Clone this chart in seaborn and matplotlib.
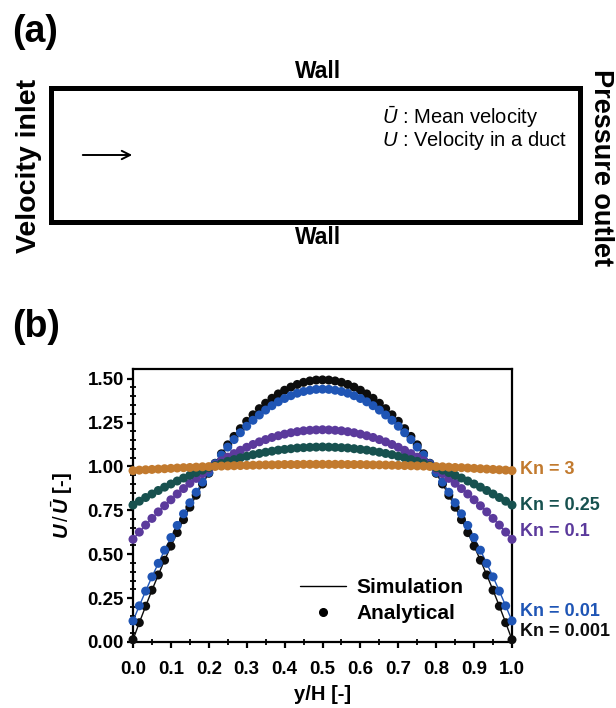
import numpy as np
import pandas as pd
import matplotlib
matplotlib.use("Agg")
import matplotlib.pyplot as plt
from matplotlib.lines import Line2D
from matplotlib.patches import Rectangle, FancyArrowPatch
import seaborn as sns

# ---- data: normalised velocity profiles U/U_mean across the duct height ----
y_over_h = np.linspace(0.0, 1.0, 61)

kn_labels = ["Kn = 0.001", "Kn = 0.01", "Kn = 0.1", "Kn = 0.25", "Kn = 3"]

u_kn_0001 = [0.013, 0.110, 0.204, 0.295, 0.382, 0.466, 0.546, 0.623, 0.697, 0.768,
             0.836, 0.900, 0.961, 1.018, 1.072, 1.123, 1.171, 1.215, 1.257, 1.294,
             1.329, 1.360, 1.388, 1.413, 1.434, 1.452, 1.467, 1.479, 1.487, 1.492,
             1.493,
             1.492, 1.487, 1.479, 1.467, 1.452, 1.434, 1.413, 1.388, 1.360, 1.329,
             1.294, 1.257, 1.215, 1.171, 1.123, 1.072, 1.018, 0.961, 0.900, 0.836,
             0.768, 0.697, 0.623, 0.546, 0.466, 0.382, 0.295, 0.204, 0.110, 0.013]

u_kn_001 = [0.120, 0.206, 0.290, 0.371, 0.448, 0.523, 0.595, 0.664, 0.730, 0.793,
            0.853, 0.911, 0.965, 1.016, 1.065, 1.110, 1.153, 1.192, 1.229, 1.263,
            1.293, 1.321, 1.346, 1.368, 1.387, 1.403, 1.417, 1.427, 1.434, 1.439,
            1.440,
            1.439, 1.434, 1.427, 1.417, 1.403, 1.387, 1.368, 1.346, 1.321, 1.293,
            1.263, 1.229, 1.192, 1.153, 1.110, 1.065, 1.016, 0.965, 0.911, 0.853,
            0.793, 0.730, 0.664, 0.595, 0.523, 0.448, 0.371, 0.290, 0.206, 0.120]

u_kn_01 = [0.585, 0.626, 0.666, 0.704, 0.741, 0.776, 0.810, 0.843, 0.874, 0.904,
           0.932, 0.959, 0.985, 1.009, 1.032, 1.053, 1.073, 1.092, 1.109, 1.125,
           1.140, 1.153, 1.165, 1.175, 1.184, 1.192, 1.198, 1.203, 1.206, 1.208,
           1.209,
           1.208, 1.206, 1.203, 1.198, 1.192, 1.184, 1.175, 1.165, 1.153, 1.140,
           1.125, 1.109, 1.092, 1.073, 1.053, 1.032, 1.009, 0.985, 0.959, 0.932,
           0.904, 0.874, 0.843, 0.810, 0.776, 0.741, 0.704, 0.666, 0.626, 0.585]

u_kn_025 = [0.780, 0.802, 0.823, 0.843, 0.863, 0.882, 0.900, 0.917, 0.934, 0.950,
            0.965, 0.979, 0.993, 1.005, 1.017, 1.029, 1.039, 1.049, 1.058, 1.067,
            1.074, 1.081, 1.087, 1.093, 1.097, 1.101, 1.105, 1.107, 1.109, 1.110,
            1.111,
            1.110, 1.109, 1.107, 1.105, 1.101, 1.097, 1.093, 1.087, 1.081, 1.074,
            1.067, 1.058, 1.049, 1.039, 1.029, 1.017, 1.005, 0.993, 0.979, 0.965,
            0.950, 0.934, 0.917, 0.900, 0.882, 0.863, 0.843, 0.823, 0.802, 0.780]

u_kn_3 = [0.976, 0.979, 0.981, 0.983, 0.985, 0.987, 0.989, 0.991, 0.993, 0.994,
          0.996, 0.998, 0.999, 1.000, 1.002, 1.003, 1.004, 1.005, 1.006, 1.007,
          1.008, 1.009, 1.009, 1.010, 1.011, 1.011, 1.011, 1.012, 1.012, 1.012,
          1.012,
          1.012, 1.012, 1.012, 1.011, 1.011, 1.011, 1.010, 1.009, 1.009, 1.008,
          1.007, 1.006, 1.005, 1.004, 1.003, 1.002, 1.000, 0.999, 0.998, 0.996,
          0.994, 0.993, 0.991, 0.989, 0.987, 0.985, 0.983, 0.981, 0.979, 0.976]

profiles = [u_kn_0001, u_kn_001, u_kn_01, u_kn_025, u_kn_3]
colors = ["#0d0d0d", "#1f55b5", "#5b3a9c", "#17514f", "#c27a2e"]

y_ticks = [0.00, 0.25, 0.50, 0.75, 1.00, 1.25, 1.50]
x_ticks = [0.0, 0.1, 0.2, 0.3, 0.4, 0.5, 0.6, 0.7, 0.8, 0.9, 1.0]

df = pd.concat(
    [pd.DataFrame({"y/H": y_over_h, "U": u, "Kn": lab}) for lab, u in zip(kn_labels, profiles)],
    ignore_index=True,
)
palette = dict(zip(kn_labels, colors))

# ---- style ----
sns.set_theme(style="ticks")
plt.rcParams["font.family"] = ["Liberation Sans", "DejaVu Sans"]
for key in ["text.color", "axes.labelcolor", "xtick.color", "ytick.color", "axes.edgecolor"]:
    plt.rcParams[key] = "black"
plt.rcParams["mathtext.fontset"] = "custom"
plt.rcParams["mathtext.rm"] = "Liberation Sans"
plt.rcParams["mathtext.it"] = "Liberation Sans:italic"
plt.rcParams["mathtext.bf"] = "Liberation Sans:bold"
try:
    plt.rcParams["mathtext.bfit"] = "Liberation Sans:italic:bold"
except KeyError:
    pass

W, H = 616, 708
fig = plt.figure(figsize=(W / 100, H / 100), dpi=100)

# ---- panel (a): duct schematic drawn on a pixel-space overlay ----
sk = fig.add_axes([0, 0, 1, 1])
sk.set_xlim(0, W)
sk.set_ylim(H, 0)
sk.axis("off")

sk.add_patch(Rectangle((51, 88), 529, 134, fill=False, lw=3.6, ec="black"))
sk.add_patch(FancyArrowPatch((80, 155), (135, 155), arrowstyle="->,head_length=6,head_width=3",
                             lw=1.4, color="black", mutation_scale=1))
sk.text(12, 32, "(a)", fontsize=27, fontweight="bold", ha="left", va="center")
sk.text(12, 327, "(b)", fontsize=27, fontweight="bold", ha="left", va="center")
sk.text(318, 72, "Wall", fontsize=16.5, fontweight="bold", ha="center", va="center")
sk.text(318, 238, "Wall", fontsize=16.5, fontweight="bold", ha="center", va="center")
sk.text(29, 166, "Velocity inlet", fontsize=20.5, fontweight="bold", rotation=90,
        ha="center", va="center")
sk.text(601, 168, "Pressure outlet", fontsize=19.5, fontweight="bold", rotation=-90,
        ha="center", va="center")
sk.text(382, 117, r"$\bar{U}$ : Mean velocity", fontsize=14.5, ha="left", va="center")
sk.text(382, 141, r"$U$ : Velocity in a duct", fontsize=14.5, ha="left", va="center")

# ---- panel (b): velocity profiles ----
ax = fig.add_axes([133 / W, 1 - 642 / H, (512 - 133) / W, (642 - 369) / H])

sns.lineplot(data=df, x="y/H", y="U", hue="Kn", palette=palette, sort=False,
             estimator=None, linewidth=1.0, legend=False, ax=ax)
sns.scatterplot(data=df, x="y/H", y="U", hue="Kn", palette=palette, s=42,
                edgecolor="none", linewidth=0, legend=False, ax=ax, clip_on=False, zorder=3)

ax.set_xlim(0, 1)
ax.set_ylim(0, 1.555)
ax.set_xticks(x_ticks)
ax.set_xticklabels([f"{v:.1f}" for v in x_ticks])
ax.set_yticks(y_ticks)
ax.set_yticklabels([f"{v:.2f}" for v in y_ticks])
ax.set_xticks(np.arange(0.05, 1.0, 0.1), minor=True)
ax.set_yticks([v for v in np.arange(0.05, 1.55, 0.05) if abs(v / 0.25 - round(v / 0.25)) > 1e-6],
              minor=True)

for sp in ax.spines.values():
    sp.set_linewidth(1.6)
    sp.set_color("black")
ax.tick_params(which="major", direction="out", length=4.5, width=1.6, colors="black",
               labelsize=13.5)
ax.tick_params(which="minor", direction="inout", length=4.5, width=1.3, colors="black")
ax.tick_params(axis="x", which="major", pad=9)
ax.tick_params(axis="y", which="major", pad=2)
for lab in ax.get_xticklabels() + ax.get_yticklabels():
    lab.set_fontweight("bold")

ax.set_xlabel("y/H [-]", fontsize=14.5, fontweight="bold", labelpad=5)
ax.set_ylabel(r"$\mathbfit{U}\,/\,\bar{\mathbfit{U}}$ [-]", fontsize=14.5, fontweight="bold",
              labelpad=9)

# curve labels on the right-hand wall
label_y = {"Kn = 3": 0.985, "Kn = 0.25": 0.78, "Kn = 0.1": 0.627,
           "Kn = 0.01": 0.171, "Kn = 0.001": 0.062}
for lab in kn_labels:
    ax.text(1.021, label_y[lab], lab, transform=ax.get_yaxis_transform(), color=palette[lab],
            fontsize=13, fontweight="bold", ha="left", va="center", clip_on=False)

handles = [Line2D([], [], color="black", lw=1.0),
           Line2D([], [], color="black", lw=0, marker="o", markersize=5.5)]
leg = ax.legend(handles, ["Simulation", "Analytical"], loc="upper left",
                bbox_to_anchor=(0.44, 0.235), frameon=False, borderpad=0, borderaxespad=0,
                handlelength=2.2, handletextpad=0.5, labelspacing=0.35,
                prop={"weight": "bold", "size": 15})

fig.savefig("out.png", dpi=100)
